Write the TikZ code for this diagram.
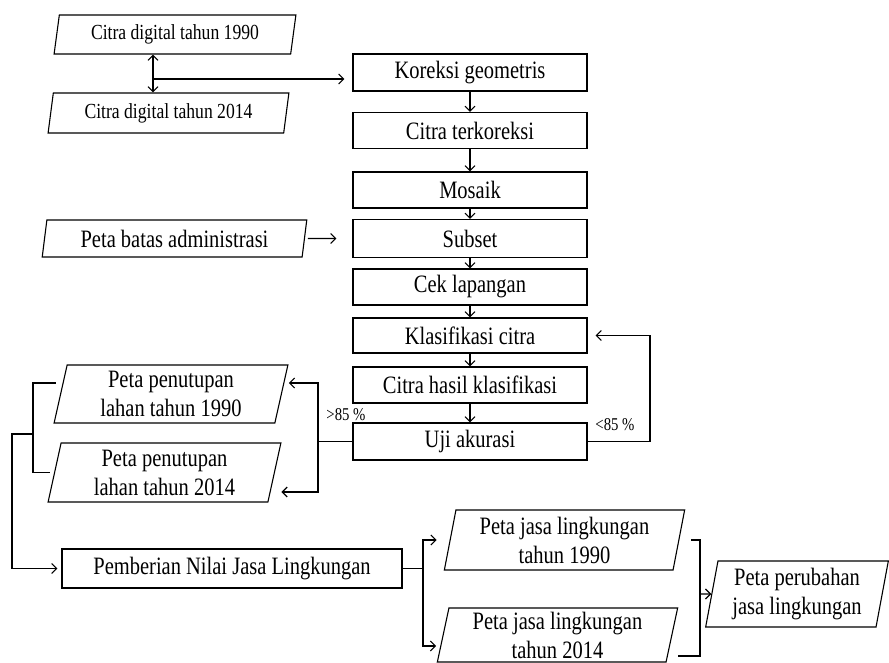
\documentclass[tikz,border=0pt]{standalone}
\usepackage{fontspec}
\setmainfont{Liberation Serif}[FakeStretch=0.82]
\usetikzlibrary{shapes.geometric,arrows.meta}
\tikzset{
  prosesbox/.style={draw,line width=1.1pt,minimum width=234pt,minimum height=37pt,inner sep=0pt,font=\fontsize{25}{29}\selectfont},
  databox/.style={draw,line width=1.1pt,trapezium,trapezium left angle=79,trapezium right angle=101,trapezium stretches=true,inner sep=0pt,align=center,font=\fontsize{25}{29}\selectfont},
  garis/.style={line width=1.1pt},
  panah/.style={garis,->},
  persen/.style={inner sep=0pt,font=\fontsize{18}{20}\selectfont},
  >={Straight Barb[length=5pt,width=10pt]}
}
\begin{document}
\begin{tikzpicture}[x=1pt,y=-1pt]
\useasboundingbox (0,0) rectangle (889,663);
\node[databox,minimum width=242pt,minimum height=39pt,font=\fontsize{21.5}{24}\selectfont] (cd90) at (175,34.5) {Citra digital tahun 1990};
\node[databox,minimum width=241pt,minimum height=40pt,font=\fontsize{21.5}{24}\selectfont] (cd14) at (168.5,113) {Citra digital tahun 2014};
\node[prosesbox] (kor) at (470,72.5) {Koreksi geometris};
\node[prosesbox,minimum height=36pt] (terk) at (470,130.5) {Citra terkoreksi};
\node[prosesbox,minimum height=36pt] (mos) at (470,190) {Mosaik};
\node[prosesbox,minimum height=38pt] (sub) at (470,238.5) {Subset};
\node[prosesbox,minimum height=36pt] (cek) at (470,287) {Cek lapangan};
\node[prosesbox,minimum height=35pt] (klas) at (470,335.5) {Klasifikasi citra};
\node[prosesbox,minimum height=36pt] (hasil) at (470,385) {Citra hasil klasifikasi};
\node[prosesbox] (uji) at (470,441.5) {Uji akurasi};
\node[databox,minimum width=265pt,minimum height=37pt] (batas) at (174.5,238.5) {Peta batas administrasi};
\node[databox,minimum width=234pt,minimum height=58pt] (pp90) at (171,394) {Peta penutupan\\lahan tahun 1990};
\node[databox,minimum width=233pt,minimum height=59pt] (pp14) at (164.5,472.5) {Peta penutupan\\lahan tahun 2014};
\node[prosesbox,minimum width=340pt,minimum height=39pt] (nilai) at (232,568.5) {Pemberian Nilai Jasa Lingkungan};
\node[databox,minimum width=241pt,minimum height=60pt] (pj90) at (564.5,540) {Peta jasa lingkungan\\tahun 1990};
\node[databox,minimum width=241pt,minimum height=54pt] (pj14) at (557.5,635) {Peta jasa lingkungan\\tahun 2014};
\node[databox,minimum width=183pt,minimum height=66pt] (pjp) at (797,594) {Peta perubahan\\jasa lingkungan};
\node[persen] (kurang) at (615,425) {<85 \%};
\node[persen] (lebih) at (346,415) {>85 \%};
% penghubung
\coordinate (cdtitik) at (153,79);
\draw[garis,<->] (cd90.south -| cdtitik) -- (cd14.north -| cdtitik);
\draw[panah,shorten >=8pt] (cdtitik) -- (cdtitik -| kor.west);
\foreach \a/\b in {kor/terk,terk/mos,mos/sub,sub/cek,cek/klas,klas/hasil,hasil/uji}
  \draw[panah] (\a) -- (\b);
\draw[panah,shorten <=3pt,shorten >=16pt] (batas.east) -- (sub.west);
\coordinate (balik) at (650,441.5);
\draw[panah,shorten >=8pt] (uji.east) -- (balik) |- (klas.east);
\coordinate (lulus) at (318,441.5);
\draw[garis] (uji.west) -- (lulus);
\draw[panah,shorten >=7pt] (lulus) |- ([yshift=11pt]pp90.east);
\draw[panah,shorten >=6.5pt] (lulus) |- ([yshift=-19.5pt]pp14.east);
\coordinate (gabung) at (33,434);
\coordinate (turun) at (12,434);
\draw[garis,shorten <=4.5pt,shorten >=4.5pt] ([yshift=11pt]pp90.west) -| (gabung) |- (pp14.west);
\draw[panah,shorten >=4pt] (gabung) -- (turun) |- (nilai.west);
\coordinate (cabang) at (423,568.5);
\draw[garis] (nilai.east) -- (cabang);
\draw[panah,shorten >=13pt] (cabang) |- (pj90.west);
\draw[panah,shorten >=6.5pt] (cabang) |- ([yshift=-11pt]pj14.west);
\coordinate (satu) at (700,594);
\draw[garis,shorten <=12pt,shorten >=5.5pt] (pj90.east) -| (satu) |- ([yshift=-21pt]pj14.east);
\draw[panah] (satu) -- (pjp.west);
\end{tikzpicture}
\end{document}
